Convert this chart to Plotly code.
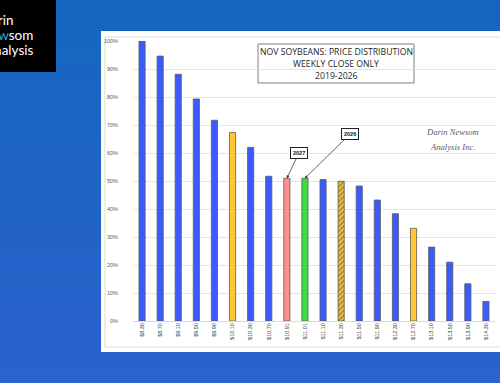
import plotly.graph_objects as go

# ---------------- data ----------------
prices = ["$8.30", "$8.70", "$9.10", "$9.50", "$9.90", "$10.10", "$10.30", "$10.70",
          "$10.91", "$11.01", "$11.10", "$11.30", "$11.50", "$11.90", "$12.30",
          "$12.70", "$13.10", "$13.50", "$13.90", "$14.30"]
pct = [100.0, 94.6, 88.1, 79.3, 71.7, 67.3, 62.0, 51.7, 51.0, 51.0,
       50.5, 49.9, 48.2, 43.2, 38.3, 33.1, 26.4, 21.0, 13.3, 7.0]
bar_kind = ["base", "base", "base", "base", "base", "mark", "base", "base", "y2027", "y2026",
            "base", "hatch", "base", "base", "base", "mark", "base", "base", "base", "base"]
title_lines = ["NOV SOYBEANS: PRICE DISTRIBUTION", "WEEKLY CLOSE ONLY", "2019-2026"]
credit_lines = ["Darin Newsom", "Analysis Inc."]
logo_lines = ["Darin", "Newsom", "Analysis"]
callouts = [("2027", "$10.91", 51.0), ("2026", "$11.01", 51.0)]

# ---------------- styling ----------------
W, H = 500, 383
L, R, T, B = 133, 5, 41, 62
PW, PH = W - L - R, H - T - B


def px(x):
    return (x - L) / PW


def py(y):
    return (H - B - y) / PH


fill_map = {"base": "#3a5bff", "mark": "#ffc833", "y2027": "#ff8f8f",
            "y2026": "#3be03b", "hatch": "#ffc833"}
colors = [fill_map[k] for k in bar_kind]
pattern_shapes = ["/" if k == "hatch" else "" for k in bar_kind]

fig = go.Figure()
fig.add_trace(go.Bar(
    x=prices,
    y=[v / 100 for v in pct],
    marker=dict(
        color=colors,
        line=dict(color="#5a5a5a", width=0.8),
        pattern=dict(shape=pattern_shapes, fgcolor="#3a5bff",
                     size=3.5, solidity=0.5, fillmode="overlay"),
    ),
    hoverinfo="skip",
))

shapes = []
# background gradient
top_c = (21, 101, 192)
bot_c = (43, 98, 205)
n = 48
for i in range(n):
    t = i / (n - 1)
    c = tuple(round(top_c[j] + (bot_c[j] - top_c[j]) * t) for j in range(3))
    shapes.append(dict(type="rect", xref="paper", yref="paper", layer="below",
                       x0=px(-2), x1=px(W + 2), y0=py(i * 8), y1=py(i * 8 + 9),
                       fillcolor="rgb(%d,%d,%d)" % c, line=dict(width=0)))
# logo box
shapes.append(dict(type="rect", xref="paper", yref="paper", layer="below",
                   x0=px(-2), x1=px(56), y0=py(-2), y1=py(72),
                   fillcolor="#000000", line=dict(width=0)))
# white chart panel
shapes.append(dict(type="rect", xref="paper", yref="paper", layer="below",
                   x0=px(101), x1=px(505), y0=py(31), y1=py(352),
                   fillcolor="#ffffff", line=dict(width=0)))
shapes.append(dict(type="rect", xref="paper", yref="paper", layer="below",
                   x0=px(105), x1=px(505), y0=py(37), y1=py(347),
                   fillcolor="rgba(0,0,0,0)", line=dict(color="#d9d9d9", width=1)))
# title box
shapes.append(dict(type="rect", xref="paper", yref="paper", layer="between",
                   x0=px(258), x1=px(414), y0=py(44), y1=py(83),
                   fillcolor="#ffffff", line=dict(color="#7f7f7f", width=1)))

annotations = []
for i, line in enumerate(title_lines):
    annotations.append(dict(xref="paper", yref="paper", x=px(336), y=py(52 + 12 * i),
                            text=line, showarrow=False, xanchor="center", yanchor="middle",
                            font=dict(family="Open Sans", size=8.7, color="#262626")))
for i, line in enumerate(credit_lines):
    annotations.append(dict(xref="paper", yref="paper", x=px(452), y=py(132 + 14.5 * i),
                            text="<i>" + line + "</i>", showarrow=False,
                            xanchor="center", yanchor="middle",
                            font=dict(family="Liberation Serif", size=8.6, color="#606060")))
logo_text = ["Darin", "<span style='color:#2aa8e6'>New</span>som", "Analysis"]
logo_x = [-21.5, -21.5, -17]
for i, line in enumerate(logo_text):
    annotations.append(dict(xref="paper", yref="paper", x=px(logo_x[i]), y=py(20 + 15 * i),
                            text=line, showarrow=False, xanchor="left", yanchor="middle",
                            font=dict(family="Lato", size=13.5, color="#ffffff")))
offsets = {"2027": (12, -25), "2026": (45, -44)}
for lab, cat, val in callouts:
    ax, ay = offsets[lab]
    annotations.append(dict(xref="x", yref="y", x=cat, y=val / 100,
                            text="<b>" + lab + "</b>", showarrow=True,
                            ax=ax, ay=ay, arrowhead=2, arrowsize=0.8, arrowwidth=0.7,
                            arrowcolor="#222222", bgcolor="#ffffff",
                            bordercolor="#222222", borderwidth=1, borderpad=2,
                            font=dict(family="Liberation Sans", size=5.5, color="#111111")))

fig.update_layout(
    width=W, height=H,
    margin=dict(l=L, r=R, t=T, b=B, pad=0, autoexpand=False),
    paper_bgcolor="rgb(32,100,198)",
    plot_bgcolor="rgba(0,0,0,0)",
    showlegend=False,
    bargap=0.66,
    shapes=shapes,
    annotations=annotations,
    xaxis=dict(
        type="category",
        tickangle=-90,
        tickfont=dict(family="Liberation Sans", size=5.5, color="#404040"),
        showgrid=False,
        showline=False,
        ticks="",
        automargin=False,
        fixedrange=True,
    ),
    yaxis=dict(
        range=[0, 1.0],
        dtick=0.1,
        tickformat=".0%",
        tickfont=dict(family="Liberation Sans", size=5.5, color="#595959"),
        showgrid=True,
        gridcolor="#dedede",
        gridwidth=0.8,
        zeroline=True,
        zerolinecolor="#d0d0d0",
        zerolinewidth=0.8,
        ticks="",
        ticklabelstandoff=14,
        automargin=False,
        fixedrange=True,
    ),
)

fig.write_html("out.html",
               config={"displayModeBar": False, "staticPlot": True},
               post_script="document.body.style.margin='0';document.body.style.overflow='hidden';")
